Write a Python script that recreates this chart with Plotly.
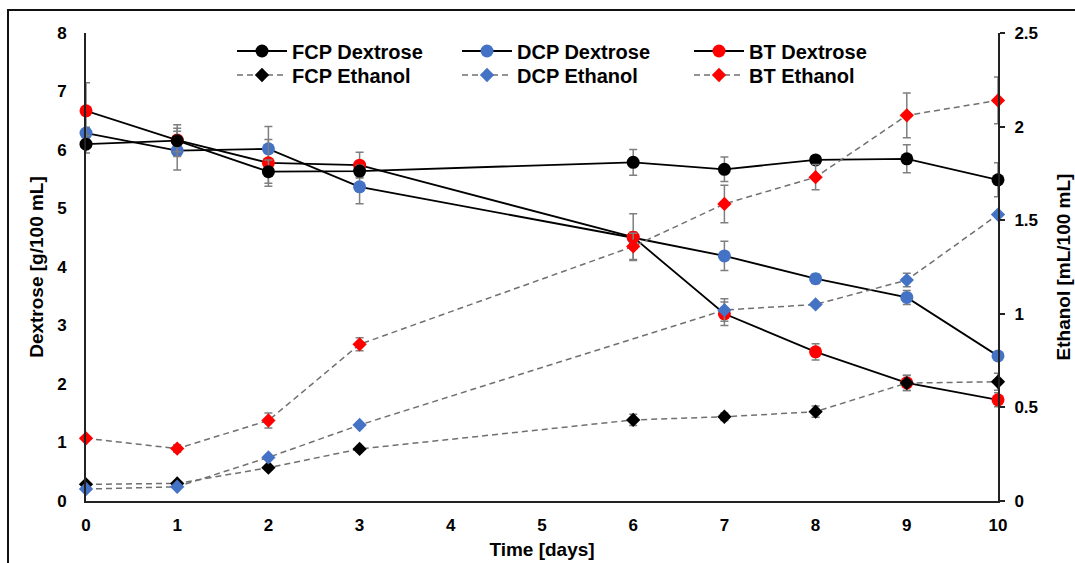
import plotly.graph_objects as go

days = [0, 1, 2, 3, 6, 7, 8, 9, 10]

fcp_dex = [6.10, 6.16, 5.63, 5.64, 5.79, 5.67, 5.83, 5.85, 5.49]
fcp_dex_err = [0.15, 0.27, 0.20, 0.10, 0.22, 0.21, 0.05, 0.24, 0.29]
dcp_dex = [6.29, 5.99, 6.02, 5.37, 4.50, 4.19, 3.80, 3.48, 2.48]
dcp_dex_err = [0.10, 0.33, 0.38, 0.29, 0.10, 0.25, 0.08, 0.12, 0.05]
bt_dex = [6.67, 6.17, 5.78, 5.74, 4.51, 3.20, 2.55, 2.02, 1.73]
bt_dex_err = [0.48, 0.20, 0.40, 0.22, 0.40, 0.20, 0.14, 0.13, 0.12]

fcp_eth = [0.089, 0.094, 0.178, 0.278, 0.433, 0.450, 0.477, 0.630, 0.637]
fcp_eth_err = [0.005, 0.010, 0.010, 0.010, 0.030, 0.020, 0.030, 0.040, 0.046]
dcp_eth = [0.064, 0.076, 0.233, 0.406, None, 1.020, 1.050, 1.180, 1.530]
dcp_eth_err = [0.005, 0.005, 0.010, 0.010, 0.0, 0.060, 0.010, 0.036, 0.010]
bt_eth = [0.335, 0.280, 0.430, 0.837, 1.360, 1.587, 1.730, 2.060, 2.140]
bt_eth_err = [0.010, 0.020, 0.040, 0.035, 0.070, 0.100, 0.068, 0.120, 0.125]

BLACK = "#000000"
BLUE = "#4472C4"
RED = "#FF0000"
GREY = "#7F7F7F"
DASH = "#707070"
FONT = "Liberation Sans, Arial, sans-serif"

L, R, T, B = 86, 77, 33, 62
W, H = 1075, 563
pw, ph = W - L - R, H - T - B

def px_to_paper_x(px):
    return (px - L) / pw

def px_to_paper_y(py):
    return (H - B - py) / ph

fig = go.Figure()

def err(vals):
    return dict(type="data", array=vals, visible=True, color=GREY, thickness=1.5, width=4)

# Dextrose (left axis) - draw blue, red, black
dex_specs = [
    ("DCP Dextrose", dcp_dex, dcp_dex_err, BLUE, "legend3"),
    ("BT Dextrose", bt_dex, bt_dex_err, RED, "legend5"),
    ("FCP Dextrose", fcp_dex, fcp_dex_err, BLACK, "legend"),
]
for name, vals, e, col, lg in dex_specs:
    fig.add_trace(go.Scatter(
        x=days, y=vals, name=name, mode="lines+markers", cliponaxis=False,
        line=dict(color=BLACK, width=1.8),
        marker=dict(symbol="circle", size=13, color=col),
        error_y=err(e), legend=lg, yaxis="y",
    ))

eth_specs = [
    ("FCP Ethanol", fcp_eth, fcp_eth_err, BLACK, "legend2"),
    ("BT Ethanol", bt_eth, bt_eth_err, RED, "legend6"),
    ("DCP Ethanol", dcp_eth, dcp_eth_err, BLUE, "legend4"),
]
for name, vals, e, col, lg in eth_specs:
    fig.add_trace(go.Scatter(
        x=days, y=vals, name=name, mode="lines+markers", connectgaps=True, cliponaxis=False,
        line=dict(color=DASH, width=1.5, dash="6px,4px"),
        marker=dict(symbol="diamond", size=11, color=col),
        error_y=err(e), legend=lg, yaxis="y2",
    ))

def leg(xpx, ypx):
    return dict(
        orientation="v", xanchor="left", yanchor="middle",
        x=px_to_paper_x(xpx), y=px_to_paper_y(ypx),
        bgcolor="rgba(0,0,0,0)", borderwidth=0, itemwidth=50,
        font=dict(family=FONT, size=20, color=BLACK, weight="bold"),
    )

cols = [232, 457, 689]
rows = [51, 75]

tick_font = dict(family=FONT, size=17, color=BLACK, weight="bold")
title_font = dict(family=FONT, size=19, color=BLACK, weight="bold")

fig.update_layout(
    width=W, height=H,
    margin=dict(l=L, r=R, t=T, b=B, autoexpand=False),
    paper_bgcolor="white", plot_bgcolor="white",
    font=dict(family=FONT, color=BLACK, weight="bold"),
    showlegend=True,
    legend=leg(cols[0], rows[0]),
    legend2=leg(cols[0], rows[1]),
    legend3=leg(cols[1], rows[0]),
    legend4=leg(cols[1], rows[1]),
    legend5=leg(cols[2], rows[0]),
    legend6=leg(cols[2], rows[1]),
    xaxis=dict(
        range=[0, 10], dtick=1, tick0=0, showgrid=False, zeroline=False,
        showline=True, linecolor="#222222", linewidth=2, ticks="",
        tickfont=tick_font, ticklabelstandoff=8, automargin=False,
        title=dict(text="Time [days]", font=title_font, standoff=8),
    ),
    yaxis=dict(
        range=[0, 8], dtick=1, showgrid=False, zeroline=False,
        showline=True, linecolor="#222222", linewidth=2, ticks="",
        tickfont=tick_font, ticklabelstandoff=14, automargin=False,
        title=dict(text="Dextrose [g/100 mL]", font=title_font, standoff=8),
    ),
    yaxis2=dict(
        range=[0, 2.5], dtick=0.5, overlaying="y", side="right", showgrid=False,
        zeroline=False, showline=True, linecolor="#222222", linewidth=2,
        ticks="outside", ticklen=5, tickwidth=1.5, tickcolor="#222222",
        tickfont=tick_font, ticklabelstandoff=6, automargin=False,
        title=dict(text="Ethanol [mL/100 mL]", font=title_font, standoff=20),
    ),
    shapes=[dict(
        type="rect", xref="paper", yref="paper",
        x0=px_to_paper_x(8), x1=px_to_paper_x(1100),
        y0=px_to_paper_y(590), y1=px_to_paper_y(10),
        line=dict(color="#111111", width=2), fillcolor="rgba(0,0,0,0)", layer="below",
    )],
)

fig.write_html("out.html")
